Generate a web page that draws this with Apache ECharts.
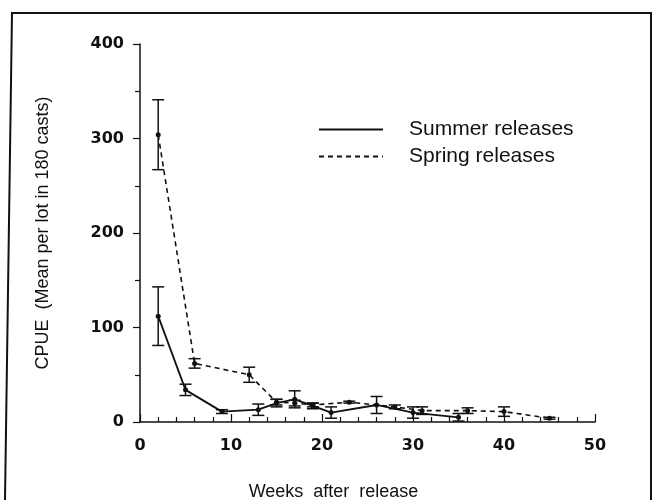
<!DOCTYPE html>
<html>
<head>
<meta charset="utf-8">
<style>
  html, body { margin: 0; padding: 0; background: #fff; }
  #chart { width: 652px; height: 500px; }
</style>
</head>
<body>
<div id="chart"></div>
<script src="https://cdn.jsdelivr.net/npm/echarts@6/dist/echarts.min.js"></script>
<script>
// weeks after release, mean CPUE and error (half bar height)
const summerWeeks = [2, 5, 9, 13, 15, 17, 19, 21, 26, 30, 35];
const summerMean  = [112, 34, 11, 13, 20, 24, 17, 10, 18, 10, 5];
const summerErr   = [31, 6, 2, 6, 4, 9, 3, 6, 9, 6, 4];

const springWeeks = [2, 6, 12, 15, 17, 19, 23, 28, 31, 36, 40, 45];
const springMean  = [304, 62, 50, 21, 20, 18, 21, 16, 12, 12, 11, 4];
const springErr   = [37, 5, 8, 3, 3, 2, 1, 2, 4, 3, 5, 1];

const xTicks = [0, 10, 20, 30, 40, 50];
const yTicks = [0, 100, 200, 300, 400];

const chart = echarts.init(document.getElementById('chart'));

function pts(w, m) { return w.map((x, i) => [x, m[i]]); }
function bars(w, m, e) { return w.map((x, i) => [x, m[i], e[i]]); }

// error bar + small dot at the mean
function renderBar(params, api) {
  const x = api.value(0), y = api.value(1), e = api.value(2);
  const p = api.coord([x, y]);
  const t = api.coord([x, y + e]);
  const b = api.coord([x, Math.max(y - e, 0)]);
  const hw = 6;
  const st = { stroke: '#111', lineWidth: 1.5 };
  return {
    type: 'group',
    children: [
      { type: 'line', shape: { x1: p[0], y1: t[1], x2: p[0], y2: b[1] }, style: st },
      { type: 'line', shape: { x1: p[0] - hw, y1: t[1], x2: p[0] + hw, y2: t[1] }, style: st },
      { type: 'line', shape: { x1: p[0] - hw, y1: b[1], x2: p[0] + hw, y2: b[1] }, style: st },
      { type: 'circle', shape: { cx: p[0], cy: p[1], r: 2.5 }, style: { fill: '#111' } }
    ]
  };
}

const labelFont = { fontFamily: 'DejaVu Sans', fontWeight: 'bold', fontSize: 16, color: '#111' };

const option = {
  backgroundColor: '#fff',
  animation: false,
  grid: { left: 140, right: 57, top: 44, bottom: 78, outerBoundsMode: 'none', containLabel: false },
  legend: {
    orient: 'vertical',
    left: 313,
    top: 114,
    itemWidth: 64,
    itemHeight: 14,
    itemGap: 6,
    data: ['Summer releases', 'Spring releases'],
    itemStyle: { color: 'rgba(0,0,0,0)', borderWidth: 0 },
    textStyle: { fontFamily: 'Liberation Sans', fontSize: 21, color: '#111', padding: [0, 0, 0, 21] }
  },
  xAxis: {
    type: 'value',
    min: xTicks[0],
    max: xTicks[xTicks.length - 1],
    interval: 10,
    name: 'Weeks  after  release',
    nameLocation: 'middle',
    nameGap: 61,
    nameTextStyle: { fontFamily: 'Liberation Sans', fontSize: 18, color: '#111', padding: [0, 68, 0, 0] },
    axisLine: { lineStyle: { color: '#111', width: 1.5 } },
    axisTick: { inside: true, length: 8, lineStyle: { color: '#111', width: 1.2 } },
    minorTick: { show: true, splitNumber: 5, length: 5, lineStyle: { color: '#111', width: 1.2 } },
    splitLine: { show: false },
    axisLabel: Object.assign({ margin: 16 }, labelFont)
  },
  yAxis: {
    type: 'value',
    min: yTicks[0],
    max: yTicks[yTicks.length - 1],
    interval: 100,
    name: 'CPUE  (Mean per lot in 180 casts)',
    nameLocation: 'middle',
    nameGap: 88,
    nameTextStyle: { fontFamily: 'Liberation Sans', fontSize: 18, color: '#111' },
    axisLine: { show: true, lineStyle: { color: '#111', width: 1.5 } },
    axisTick: { show: true, length: 7, lineStyle: { color: '#111', width: 1.2 } },
    minorTick: { show: true, splitNumber: 2, length: 5, lineStyle: { color: '#111', width: 1.2 } },
    splitLine: { show: false },
    axisLabel: Object.assign({ margin: 16 }, labelFont)
  },
  graphic: [{
    type: 'polyline',
    shape: { points: [[5, 500], [12, 13], [651, 13], [651, 500]] },
    style: { stroke: '#111', lineWidth: 2, fill: null },
    silent: true
  }],
  series: [
    {
      name: 'Summer releases',
      type: 'line',
      symbol: 'none',
      data: pts(summerWeeks, summerMean),
      lineStyle: { color: '#111', width: 1.8, type: 'solid' },
      itemStyle: { color: '#111' },
      z: 3
    },
    {
      name: 'Spring releases',
      type: 'line',
      symbol: 'none',
      data: pts(springWeeks, springMean),
      lineStyle: { color: '#111', width: 1.6, type: [5, 4] },
      itemStyle: { color: '#111' },
      z: 3
    },
    {
      type: 'custom',
      renderItem: renderBar,
      data: bars(summerWeeks, summerMean, summerErr),
      z: 4
    },
    {
      type: 'custom',
      renderItem: renderBar,
      data: bars(springWeeks, springMean, springErr),
      z: 4
    }
  ]
};

chart.setOption(option);
</script>
</body>
</html>
